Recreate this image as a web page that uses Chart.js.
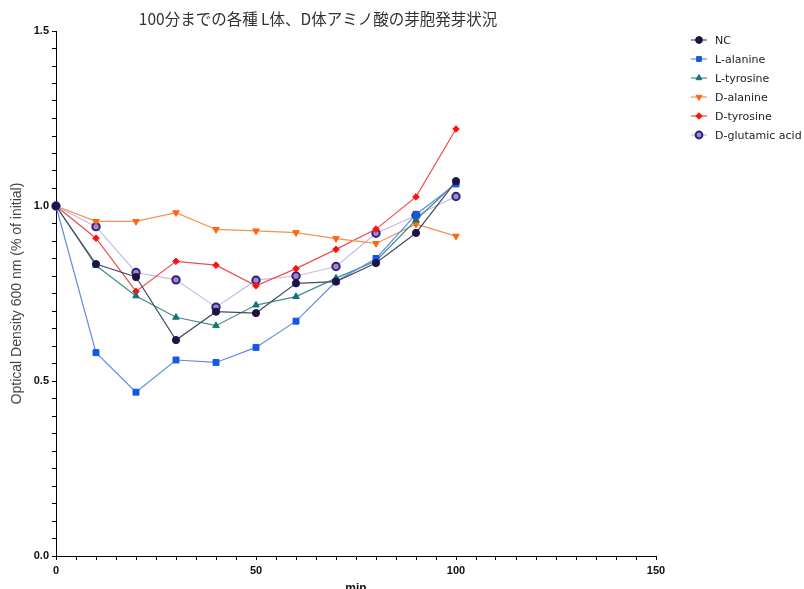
<!DOCTYPE html>
<html>
<head>
<meta charset="utf-8">
<script src="https://cdn.jsdelivr.net/npm/chart.js@4/dist/chart.umd.min.js"></script>
<style>
	body { margin: 0; background: #fff; }
	#wrap { width: 804px; height: 589px; position: relative; }
</style>
</head>
<body>
<div id="wrap"><canvas id="lineChart"></canvas></div>
<script>
// values
var minutes = [0, 10, 20, 30, 40, 50, 60, 70, 80, 90, 100];
var seriesNames = ['NC', 'L-alanine', 'L-tyrosine', 'D-alanine', 'D-tyrosine', 'D-glutamic acid'];
var nc = [1.0, 0.834, 0.797, 0.617, 0.698, 0.694, 0.779, 0.784, 0.837, 0.923, 1.071];
var lAlanine = [1.0, 0.581, 0.468, 0.560, 0.553, 0.596, 0.671, 0.784, 0.850, 0.976, 1.063];
var lTyrosine = [1.0, 0.830, 0.743, 0.682, 0.658, 0.717, 0.741, 0.794, 0.843, 0.960, 1.067];
var dAlanine = [1.0, 0.956, 0.956, 0.981, 0.933, 0.929, 0.924, 0.907, 0.893, 0.948, 0.914];
var dTyrosine = [1.0, 0.908, 0.756, 0.842, 0.831, 0.772, 0.821, 0.876, 0.934, 1.026, 1.220];
var dGlutamic = [1.0, 0.941, 0.810, 0.789, 0.711, 0.788, 0.800, 0.827, 0.922, 0.973, 1.027];
var xTickLabels = [0, 50, 100, 150];
var yTickLabels = ['0.0', '0.5', '1.0', '1.5'];

lineChartModule = function(){

	var title = '100分までの各種 L体、D体アミノ酸の芽胞発芽状況';

	var toPoints = function(values)
	{
		return values.map(function(v, i){ return {x: minutes[i], y: v}; });
	};

	var series = function(name, values, line, fill, border, style, radius, rotation, bw)
	{
		return {
			label: name,
			data: toPoints(values),
			borderColor: line,
			borderWidth: 1.2,
			backgroundColor: fill,
			pointBackgroundColor: fill,
			pointBorderColor: border,
			pointBorderWidth: bw,
			pointStyle: style,
			pointRadius: radius,
			pointRotation: rotation,
			pointHoverRadius: radius,
			tension: 0,
			clip: false
		};
	};

	// title + legend painted at fixed spots like the original
	var extras = {
		id: 'extras',
		afterDraw: function(chart)
		{
			var ctx = chart.ctx;
			ctx.save();
			ctx.fillStyle = '#333';
			ctx.font = '15.5px "Noto Sans CJK JP", sans-serif';
			ctx.textAlign = 'center';
			ctx.textBaseline = 'middle';
			ctx.fillText(title, 318, 19);

			ctx.font = '11px "DejaVu Sans", sans-serif';
			ctx.textAlign = 'left';
			chart.data.datasets.forEach(function(ds, i){
				var y = 40 + i * 19;
				ctx.strokeStyle = ds.borderColor;
				ctx.lineWidth = 1.2;
				ctx.beginPath();
				ctx.moveTo(691, y);
				ctx.lineTo(707, y);
				ctx.stroke();
				ctx.fillStyle = ds.pointBackgroundColor;
				ctx.strokeStyle = ds.pointBorderColor;
				ctx.lineWidth = ds.pointBorderWidth;
				Chart.helpers.drawPoint(ctx, {
					pointStyle: ds.pointStyle,
					radius: Math.min(ds.pointRadius, 3.4),
					rotation: ds.pointRotation,
					borderWidth: ds.pointBorderWidth
				}, 699, y);
				ctx.fillStyle = '#222';
				ctx.fillText(ds.label, 715, y + 1);
			});
			ctx.restore();
		}
	};

	var init = function()
	{
		var ctx = document.getElementById('lineChart').getContext('2d');

		var growthChart = new Chart(ctx,
		{
			type: 'line',
			data:
			{
				datasets: [
					series(seriesNames[0], nc, '#4b4a66', '#1d1446', '#1d1446', 'circle', 3.6, 0, 1),
					series(seriesNames[1], lAlanine, '#5f8ce8', '#1458e6', '#1458e6', 'rect', 4.2, 0, 1),
					series(seriesNames[2], lTyrosine, '#3f8f8b', '#1a7272', '#1a7272', 'triangle', 3.8, 0, 1),
					series(seriesNames[3], dAlanine, '#f5914f', '#ff6410', '#ff6410', 'triangle', 3.8, 180, 1),
					series(seriesNames[4], dTyrosine, '#f04c4c', '#ff1010', '#ff1010', 'rectRot', 3.3, 0, 1),
					series(seriesNames[5], dGlutamic, '#c5bce6', '#9c88d8', '#35226e', 'circle', 3.7, 0, 2)
				]
			},
			options:
			{
				responsive: true,
				maintainAspectRatio: false,
				animation: false,
				layout: { padding: { top: 31, right: 148, left: 0, bottom: 0 } },
				plugins: {
					legend: { display: false },
					title: { display: false },
					tooltip: { enabled: false }
				},
				scales:
				{
					x: {
						type: 'linear',
						min: 0,
						max: 150,
						afterFit: function(scale){ scale.height = 33; },
						border: { color: '#000', width: 1 },
						grid: { drawOnChartArea: false, tickLength: 4, tickColor: '#000' },
						ticks: {
							stepSize: 5,
							autoSkip: false,
							maxRotation: 0,
							padding: 4,
							color: '#111',
							font: { family: '"Liberation Sans", Arial, sans-serif', size: 11, weight: 'bold' },
							callback: function(v){ return xTickLabels.indexOf(v) >= 0 ? String(v) : ''; }
						},
						title: {
							display: true,
							text: 'min',
							color: '#111',
							padding: { top: 0, bottom: -7 },
							font: { family: '"Liberation Sans", Arial, sans-serif', size: 12, weight: 'bold' }
						}
					},
					y: {
						min: 0,
						max: 1.5,
						afterFit: function(scale){ scale.width = 56; },
						border: { color: '#000', width: 1 },
						grid: { drawOnChartArea: false, tickLength: 4, tickColor: '#000' },
						ticks: {
							stepSize: 0.05,
							autoSkip: false,
							padding: 3,
							color: '#111',
							font: { family: '"Liberation Sans", Arial, sans-serif', size: 11, weight: 'bold' },
							callback: function(v){
								var k = Math.round(v * 2);
								if (Math.abs(v * 2 - k) > 1e-6) return '';
								return yTickLabels[k];
							}
						},
						title: {
							display: true,
							text: 'Optical Density 600 nm (% of initial)',
							color: '#444',
							padding: { top: 9, bottom: 0 },
							font: { family: '"Liberation Sans", Arial, sans-serif', size: 14 }
						}
					}
				}
			},
			plugins: [extras]
		});
	};

	return{init: init};

}(); // lineChartModule ends

lineChartModule.init();
</script>
</body>
</html>
